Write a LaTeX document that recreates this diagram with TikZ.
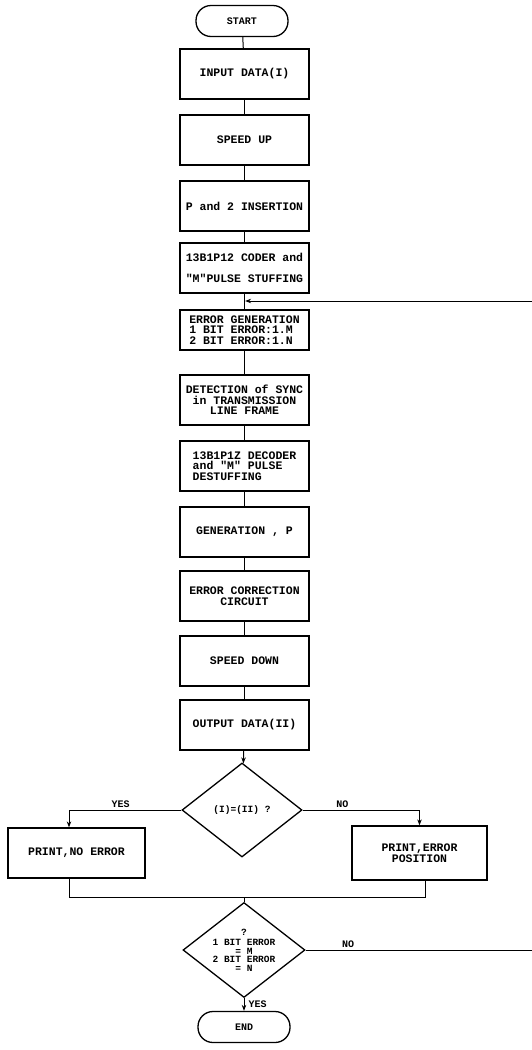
\documentclass[tikz,border=0pt]{standalone}
\usepackage{fontspec}
\setmonofont{Liberation Mono}
\usetikzlibrary{arrows.meta,shapes.geometric,positioning}

\begin{document}
\begin{tikzpicture}[x=1pt, y=-1pt,
    box/.style={draw, line width=1.3pt, minimum width=129pt, minimum height=50pt, inner sep=2pt, align=center, font=\ttfamily\bfseries\fontsize{11.5}{10.5}\selectfont},
    term/.style={draw, line width=1.3pt, rounded corners=15pt, minimum width=92pt, minimum height=31pt, font=\ttfamily\bfseries\fontsize{10}{10}\selectfont},
    dec/.style={draw, diamond, line width=1.3pt, inner sep=0pt, align=center, font=\ttfamily\bfseries\fontsize{9.5}{8.5}\selectfont},
    arr/.style={-{Stealth[length=6pt,width=4.5pt]}, line width=1pt},
    ln/.style={line width=1pt},
    lbl/.style={font=\ttfamily\bfseries\fontsize{10}{10}\selectfont, inner sep=1.5pt}
]
\useasboundingbox (0,0) rectangle (531,1050);

\node[term] (start) at (242,21) {START};
\node[box] (inp) at (244.5,74) {INPUT DATA(I)};
\node[box] (spup) at (244.5,140) {SPEED UP};
\node[box] (ins) at (244.5,206) {P and 2 INSERTION};
\node[box] (cod) at (244.5,268) {13B1P12 CODER and\\[10pt]"M"PULSE STUFFING};
\node[box, minimum height=40pt, align=left] (errgen) at (244.5,330) {ERROR GENERATION\\1 BIT ERROR:1.M\\2 BIT ERROR:1.N};
\node[box] (sync) at (244.5,400) {DETECTION of SYNC\\in TRANSMISSION\\LINE FRAME};
\node[box, align=left] (dec) at (244.5,466) {13B1P1Z DECODER\\and   "M" PULSE\\DESTUFFING};
\node[box] (genp) at (244.5,532) {GENERATION , P};
\node[box] (corr) at (244.5,596) {ERROR CORRECTION\\CIRCUIT};
\node[box] (spdn) at (244.5,661) {SPEED DOWN};
\node[box] (out) at (244.5,725) {OUTPUT DATA(II)};
\node[dec, minimum width=120pt, minimum height=94pt] (cmp) at (242,810) {(I)=(II) ?};
\node[box, minimum width=137pt] (noerr) at (76.5,853) {PRINT,NO ERROR};
\node[box, minimum width=135pt, minimum height=54pt] (errpos) at (419.5,853) {PRINT,ERROR\\POSITION};
\node[dec, aspect=1.28, minimum width=122pt, minimum height=95pt] (chk) at (244,950) {?\\[2pt]1 BIT ERROR\\= M\\2 BIT ERROR\\= N};
\node[term] (end) at (244,1027) {END};

\coordinate (fb) at (244.5,301);
\coordinate (ml) at (69,897);
\coordinate (mr) at (425,897);

\draw[ln] (start) -- (inp);
\draw[ln] (inp) -- (spup);
\draw[ln] (spup) -- (ins);
\draw[ln] (ins) -- (cod);
\draw[ln] (cod) -- (errgen);
\draw[ln] (errgen) -- (sync);
\draw[ln] (sync) -- (dec);
\draw[ln] (dec) -- (genp);
\draw[ln] (genp) -- (corr);
\draw[ln] (corr) -- (spdn);
\draw[ln] (spdn) -- (out);
\draw[arr] (out) -- (cmp);
\draw[arr] (cmp.west) -| node[lbl, above, pos=0.27] {YES} (noerr.north -| ml);
\draw[arr] (cmp.east) -| node[lbl, above, pos=0.17] {NO} (errpos.north);
\draw[ln] (noerr.south -| ml) -- (ml) -- (mr) -- (errpos.south -| mr);
\draw[ln] (chk.north) -- (chk.north |- ml);
\draw[arr] (chk.south) -- node[lbl, right, inner sep=4pt] {YES} (end);
\draw[arr, shorten >=0.6pt] (chk.east) -- node[lbl, above, pos=0.18] {NO} ++(236,0) |- (fb);
\end{tikzpicture}
\end{document}
